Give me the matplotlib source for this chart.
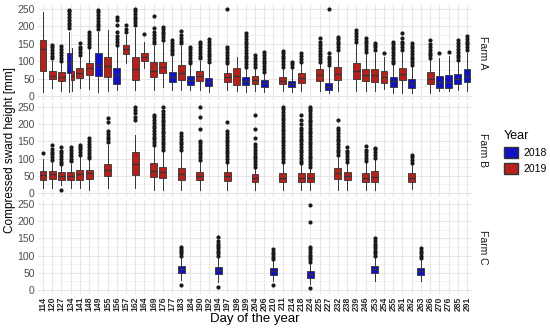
import numpy as np
import matplotlib.pyplot as plt
from matplotlib.patches import Patch

plt.rcParams['font.family'] = ['Liberation Sans', 'DejaVu Sans']

# --- eixo x (dias de coleta) ---
dias = [114, 120, 127, 134, 141, 148, 149, 155, 156, 157, 162, 164, 169, 176,
        177, 183, 184, 190, 192, 194, 197, 198, 199, 204, 206, 210, 211, 214,
        218, 224, 225, 227, 232, 238, 239, 246, 253, 254, 255, 261, 262, 263,
        266, 270, 276, 285, 291]

# --- Farm A ---
a_dia = [114, 120, 127, 134, 134, 141, 148, 149, 155, 156, 157, 162, 164, 169, 176,
         177, 183, 184, 190, 192, 197, 198, 199, 204, 206, 211, 214, 218, 225, 227,
         232, 239, 246, 253, 254, 255, 261, 262, 266, 270, 276, 285, 291]
a_ano = [2019, 2019, 2019, 2018, 2019, 2019, 2019, 2018, 2019, 2018, 2019, 2019, 2019, 2019, 2019,
         2018, 2019, 2018, 2019, 2018, 2019, 2019, 2018, 2019, 2018, 2019, 2018, 2019, 2019, 2018,
         2019, 2019, 2019, 2019, 2019, 2018, 2019, 2018, 2019, 2018, 2018, 2018, 2018]
a_lo = [12, 23, 15, 12, 15, 23, 20, 12, 15, 17, 95, 17, 80, 17, 27,
        17, 17, 17, 17, 12, 17, 15, 12, 15, 12, 15, 12, 15, 15, 8,
        15, 15, 15, 15, 19, 8, 10, 8, 10, 15, 15, 17, 15]
a_q1 = [73, 48, 43, 67, 46, 51, 60, 57, 55, 34, 121, 46, 100, 54, 65,
        41, 46, 32, 44, 29, 41, 32, 32, 36, 27, 34, 27, 38, 44, 17,
        46, 49, 43, 40, 38, 27, 46, 24, 36, 24, 22, 36, 41]
a_med = [134, 58, 56, 94, 58, 67, 80, 89, 85, 60, 135, 78, 112, 73, 82,
         55, 67, 45, 57, 40, 55, 58, 42, 47, 37, 44, 35, 52, 60, 26,
         64, 73, 60, 60, 55, 42, 63, 37, 50, 40, 40, 48, 57]
a_q3 = [161, 72, 68, 123, 72, 81, 96, 123, 113, 80, 147, 112, 123, 99, 99,
        70, 89, 57, 73, 53, 67, 80, 55, 57, 46, 54, 43, 67, 77, 37,
        84, 96, 78, 78, 72, 56, 81, 49, 68, 57, 60, 63, 77]
a_hi = [242, 100, 95, 185, 138, 112, 135, 185, 190, 140, 175, 195, 155, 145, 155,
        113, 145, 90, 100, 90, 90, 113, 80, 80, 65, 80, 78, 92, 92, 82,
        125, 150, 120, 125, 113, 88, 125, 84, 103, 108, 115, 98, 125]
a_out = [[], [108, 116, 124, 132, 140, 147], [102, 110, 118, 126, 134, 145],
         [195, 203, 211, 219, 227, 235, 243, 248], [], [118, 126, 134, 142, 152],
         [142, 150, 158, 166, 174, 185], [192, 200, 208, 216, 224, 232, 240, 248], [],
         [147, 155, 163, 172, 183, 205, 217, 228], [185, 193, 204],
         [204, 212, 220, 228, 236, 244, 249], [178], [151, 159, 167, 175, 183, 195, 230],
         [161, 169, 177, 185, 192, 199],
         [120, 128, 136, 144, 152, 161], [151, 159, 167, 175, 186],
         [94, 102, 110, 118, 126, 134, 142], [108, 116, 124, 132, 140, 148, 156],
         [98, 106, 114, 122, 130, 138, 146, 155, 163],
         [94, 102, 110, 118, 126, 134, 142, 249], [],
         [84, 92, 100, 108, 116, 124, 132, 140, 148, 156, 164, 172, 180],
         [84, 92, 100, 108, 118], [70, 78, 86, 94, 102, 110, 118, 127],
         [84, 92, 100, 108, 116, 123, 130], [84, 91, 99], [98, 106, 114, 123],
         [98, 106, 114, 122, 130, 138, 146, 155, 166], [89, 97, 105, 113, 123, 249],
         [132, 140, 148, 156, 164, 170], [156, 164, 172, 180, 190],
         [127, 135, 143, 151, 159, 166], [132, 140, 146, 152], [123],
         [94, 102, 110, 118, 126, 134, 142, 150, 156], [132, 140, 148, 156, 166, 180],
         [89, 97, 105, 113, 121, 129, 137, 145, 152], [109, 117, 125, 133, 141, 149, 161],
         [123], [127], [103, 111, 119, 127, 135, 143, 151, 161],
         [132, 140, 148, 156, 164, 172]]

# --- Farm B ---
b_dia = [114, 120, 127, 134, 141, 148, 155, 162, 169, 176, 183, 190, 197, 204,
         211, 218, 224, 232, 238, 246, 253, 262]
b_ano = [2019] * 22
b_lo = [14, 14, 23, 14, 14, 9, 14, 14, 9, 9, 9, 9, 9, 9, 9, 9, 9, 9, 9, 9, 9, 13]
b_q1 = [38, 41, 38, 38, 38, 41, 49, 52, 46, 44, 38, 38, 36, 33, 33, 33, 33, 41, 38, 31, 33, 33]
b_med = [52, 55, 50, 50, 55, 57, 66, 85, 65, 60, 55, 50, 50, 43, 45, 45, 45, 57, 50, 45, 47, 45]
b_q3 = [65, 65, 62, 62, 67, 68, 84, 120, 87, 77, 72, 62, 62, 55, 59, 59, 59, 72, 62, 59, 64, 57]
b_hi = [100, 92, 80, 85, 105, 95, 140, 169, 135, 120, 120, 90, 85, 72, 85, 80, 72, 105, 85, 88, 100, 84]
b_out = [[116], [96, 104, 112, 120, 128, 140], [83, 91, 99, 107, 115, 123, 135, 9],
         [92, 100, 108, 116, 124, 135], [111, 119, 127, 135, 140],
         [101, 109, 117, 125, 133, 141, 150, 160],
         [148, 156, 164, 172, 180, 205, 218], [212, 222, 232, 242, 250],
         [140, 148, 156, 164, 172, 180, 188, 196, 204, 212, 220, 227],
         [125, 133, 141, 149, 157, 165, 173, 181, 189, 197, 205, 213, 221, 229, 237, 250],
         [125, 133, 141, 149, 157, 165, 174],
         [96, 104, 112, 120, 128, 136, 144, 150, 185, 220, 250],
         [91, 99, 107, 115, 123, 131, 139, 147, 155, 163, 171, 180, 207],
         [77, 85, 93, 101, 109, 117, 125, 133, 141, 160, 185, 227],
         [91, 99, 107, 115, 123, 131, 139, 147, 155, 163, 171, 179, 187, 195, 203,
          211, 219, 227, 235, 243, 250],
         [86, 94, 102, 110, 118, 126, 134, 142, 150, 158, 166, 174, 182, 190, 200, 212, 227],
         [77, 85, 93, 101, 109, 117, 125, 133, 141, 149, 157, 165, 173, 181, 189,
          197, 205, 213, 221, 229, 237, 245, 250],
         [110, 118, 126, 134, 142, 150, 158, 166, 174, 182, 190, 212],
         [91, 99, 107, 115, 123, 135], [94, 102, 110, 118, 126, 137],
         [103, 111, 119, 127, 132], [88, 96, 104, 110]]

# --- Farm C ---
c_dia = [183, 194, 210, 224, 253, 263]
c_ano = [2018] * 6
c_lo = [29, 22, 25, 18, 25, 25]
c_q1 = [48, 46, 44, 36, 48, 43]
c_med = [60, 57, 55, 47, 60, 55]
c_q3 = [70, 67, 64, 56, 70, 65]
c_hi = [96, 95, 85, 78, 95, 88]
c_out = [[100, 107, 113, 120, 126, 15],
         [100, 107, 114, 121, 128, 135, 143, 155, 9],
         [90, 97, 104, 111, 119, 15],
         [82, 89, 96, 103, 110, 118, 126, 199, 247, 6],
         [100, 107, 114, 121, 128, 135, 142, 150],
         [93, 100, 107, 114, 121]]

cores = {2018: '#1212C4', 2019: '#B5221C'}
pos = {d: i for i, d in enumerate(dias)}

fig = plt.figure(figsize=(5.5, 3.31), dpi=100)

fazendas = [
    ('Farm A', a_dia, a_ano, a_lo, a_q1, a_med, a_q3, a_hi, a_out),
    ('Farm B', b_dia, b_ano, b_lo, b_q1, b_med, b_q3, b_hi, b_out),
    ('Farm C', c_dia, c_ano, c_lo, c_q1, c_med, c_q3, c_hi, c_out),
]
# posicao dos paineis em pixels (topo, base)
paineis = [(4.6, 100.4), (102.7, 197.3), (199.7, 294.3)]
esq, dir_ = 37.5 / 550, 472.5 / 550

for k, (nome, dia, ano, lo, q1, med, q3, hi, out) in enumerate(fazendas):
    topo, base = paineis[k]
    ax = fig.add_axes([esq, 1 - base / 331, dir_ - esq, (base - topo) / 331])

    stats, posicoes, larguras = [], [], []
    for i in range(len(dia)):
        n = dia.count(dia[i])
        x = pos[dia[i]]
        w = 0.75
        if n > 1:
            j = [t for t in range(len(dia)) if dia[t] == dia[i]].index(i)
            x = x - 0.1875 + j * 0.375
            w = 0.34
        posicoes.append(x)
        larguras.append(w)
        stats.append(dict(med=med[i], q1=q1[i], q3=q3[i], whislo=lo[i],
                          whishi=hi[i], fliers=out[i]))

    bp = ax.bxp(stats, positions=posicoes, widths=larguras, patch_artist=True,
                showcaps=False,
                boxprops=dict(edgecolor='#333333', linewidth=0.6),
                medianprops=dict(color='#333333', linewidth=1.0),
                whiskerprops=dict(color='#333333', linewidth=0.7),
                flierprops=dict(marker='o', markerfacecolor='#1A1A1A',
                                markeredgecolor='none', markersize=3.0))
    for caixa, a in zip(bp['boxes'], ano):
        caixa.set_facecolor(cores[a])
        caixa.set_zorder(3)
    for linha in bp['medians']:
        linha.set_zorder(4)

    ax.set_xlim(-0.6, len(dias) - 0.4)
    ax.set_ylim(-12.5, 262.5)
    ax.set_yticks([0, 50, 100, 150, 200, 250])
    ax.set_yticks([25, 75, 125, 175, 225], minor=True)
    ax.set_xticks(range(len(dias)))
    ax.grid(True, which='major', color='#E6E6E6', linewidth=0.8, zorder=0)
    ax.grid(True, which='minor', axis='y', color='#EFEFEF', linewidth=0.5, zorder=0)
    ax.set_axisbelow(True)
    for s in ax.spines.values():
        s.set_visible(False)
    ax.tick_params(axis='both', which='both', length=0, labelsize=7.5, colors='#4D4D4D', pad=2)
    if k < 2:
        ax.set_xticklabels([])
    else:
        ax.set_xticklabels([str(d) for d in dias], rotation=90, fontsize=6.2,
                           fontweight='bold', color='#2A2A2A')
        ax.tick_params(axis='x', pad=1.5)
    ax.text(1.012, 0.5, nome, transform=ax.transAxes, rotation=-90,
            va='center', ha='left', fontsize=7.5, color='#1A1A1A')

fig.text(0.464, 0.036, 'Day of the year', ha='center', va='center', fontsize=9.5)
fig.text(0.018, 0.548, 'Compressed sward height [mm]', rotation=90,
         ha='center', va='center', fontsize=8.5)

handles = [Patch(facecolor=cores[2018], edgecolor='#333333', label='2018'),
           Patch(facecolor=cores[2019], edgecolor='#333333', label='2019')]
fig.legend(handles=handles, title='Year', loc='center left',
           bbox_to_anchor=(504 / 550, 1 - 152 / 331), frameon=False,
           fontsize=7.5, title_fontsize=9, handlelength=1.3, handleheight=1.2,
           handletextpad=0.6, borderpad=0, borderaxespad=0, labelspacing=0.5,
           alignment='left')

fig.savefig('out.png', dpi=100)
